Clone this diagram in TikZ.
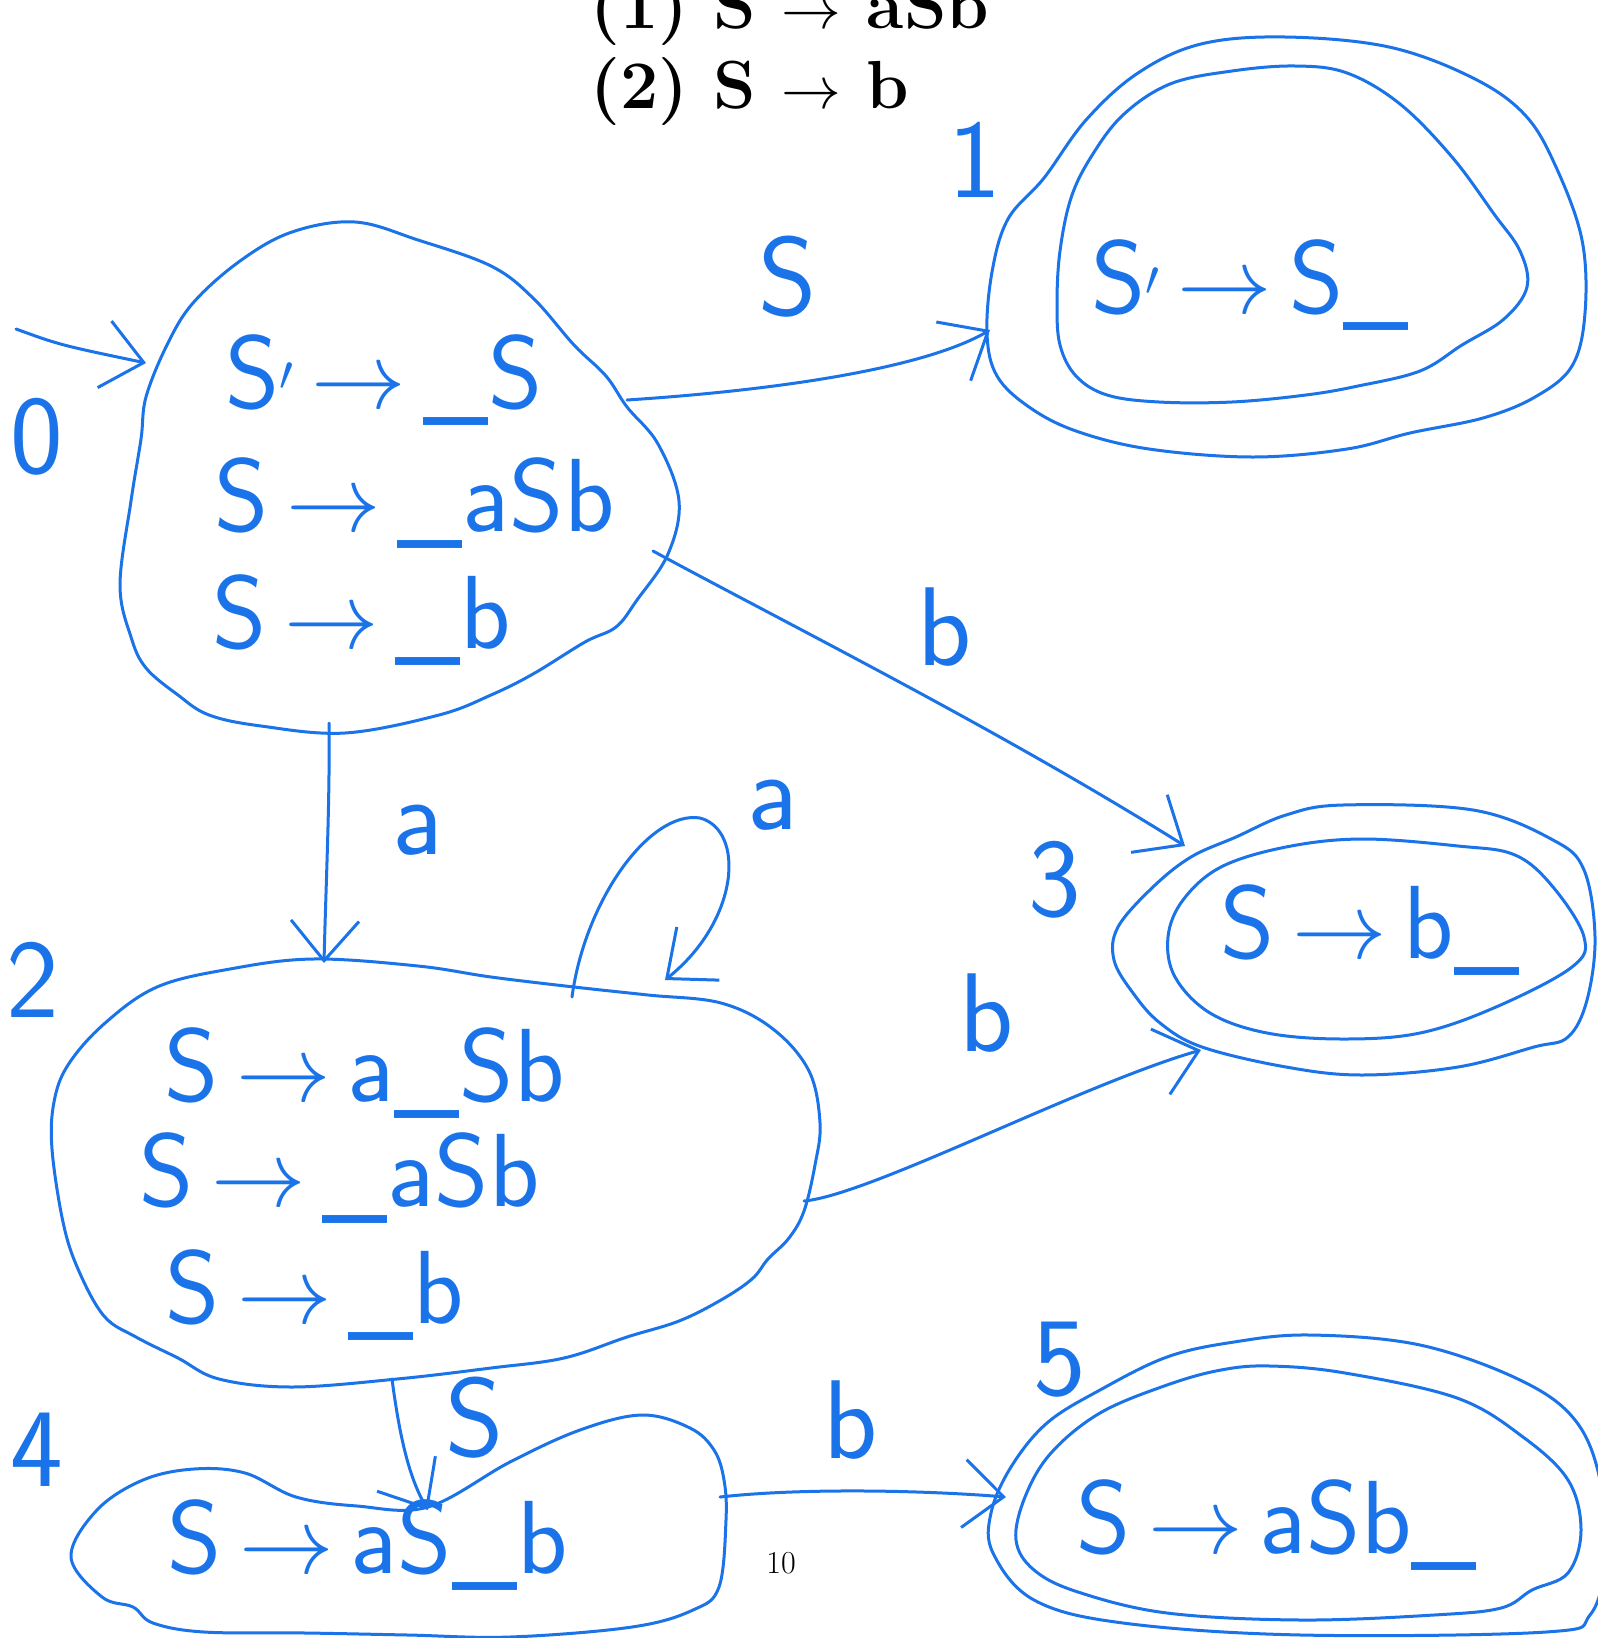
\documentclass[tikz,border=0pt]{standalone}
\usetikzlibrary{arrows.meta}
\definecolor{ink}{HTML}{1A73E8}
\newcommand\harr{\,\scalebox{1.9}{$\rightarrow$}\,}
\newcommand\tarr{\scalebox{1.2}{$\rightarrow$}}
\begin{document}
\begin{tikzpicture}[x=0.5pt,y=-0.5pt,
  pen/.style={draw=ink,line width=1.5pt,line cap=round,line join=round},
  blob/.style={pen},
  edge/.style={pen,-{Straight Barb[length=20pt,width=34pt,line width=1.5pt]}},
  item/.style={text=ink,font=\sffamily\fontsize{52}{56}\selectfont,inner sep=0pt,anchor=west},
  lbl/.style={text=ink,font=\sffamily\fontsize{56}{60}\selectfont,inner sep=0pt},
  title/.style={font=\bfseries\fontsize{34}{40}\selectfont,anchor=base west,inner sep=0pt}]
\useasboundingbox (0,0) rectangle (1598,1638);

% title
\node[title] (t1) at (590,28) {(1) S \tarr\ aSb};
\node[title] (t2) at (590,108) {(2) S \tarr\ b};

% state 0
\draw[blob] plot[smooth cycle,tension=0.6] coordinates {(355,222) (418,240) (491,266) (533,298) (574,345) (606,376) (627,407) (658,444) (679,501) (668,554) (637,600) (616,627) (585,642) (533,674) (491,695) (439,715) (345,733) (261,726) (209,715) (178,695) (146,668) (131,637) (120,585) (131,501) (141,439) (146,397) (167,345) (193,303) (240,261) (292,232)};
\node[item] (i0a) at (225,380) {S$'$\harr\_S};
\node[item] (i0b) at (214,503) {S\harr\_aSb};
\node[item] (i0c) at (212,620) {S\harr\_b};
\node[lbl] (n0) at (37,437) {0};

% state 1
\draw[blob] plot[smooth cycle,tension=0.6] coordinates {(1285,37) (1389,47) (1473,78) (1525,115) (1556,167) (1582,240) (1585,313) (1572,366) (1535,397) (1483,418) (1410,433) (1347,449) (1253,457) (1149,449) (1076,431) (1029,407) (997,376) (987,334) (992,272) (1008,219) (1044,178) (1086,120) (1138,73) (1201,44)};
\draw[blob] plot[smooth cycle,tension=0.6] coordinates {(1295,66) (1347,73) (1400,104) (1452,157) (1494,214) (1520,251) (1527,287) (1504,319) (1462,345) (1420,371) (1358,386) (1306,395) (1232,402) (1159,402) (1107,395) (1076,376) (1060,345) (1057,303) (1060,251) (1071,198) (1091,157) (1123,115) (1170,84) (1232,71)};
\node[item] (i1) at (1091,285) {S$'$\harr S\_};
\node[lbl] (n1) at (975,160) {1};

% state 2
\draw[blob] plot[smooth cycle,tension=0.6] coordinates {(313,959) (418,966) (491,977) (574,987) (648,995) (721,1003) (773,1029) (809,1071) (820,1123) (815,1165) (804,1211) (789,1238) (768,1259) (752,1279) (721,1300) (679,1321) (627,1337) (564,1358) (491,1368) (397,1379) (292,1387) (219,1379) (178,1358) (136,1337) (104,1316) (78,1269) (63,1222) (52,1149) (54,1102) (68,1065) (104,1024) (157,987) (230,969)};
\node[item] (i2a) at (164,1073) {S\harr a\_Sb};
\node[item] (i2b) at (139,1178) {S\harr\_aSb};
\node[item] (i2c) at (165,1295) {S\harr\_b};
\node[lbl] (n2) at (33,980) {2};

% state 3
\draw[blob] plot[smooth cycle,tension=0.6] coordinates {(1343,805) (1473,810) (1553,840) (1584,870) (1595,937) (1587,1000) (1568,1037) (1534,1047) (1458,1067) (1362,1075) (1286,1067) (1202,1047) (1160,1023) (1133,993) (1114,960) (1118,927) (1153,887) (1191,857) (1236,837) (1286,815)};
\draw[blob] plot[smooth cycle,tension=0.6] coordinates {(1362,839) (1458,846) (1515,855) (1553,887) (1584,937) (1572,967) (1496,1007) (1420,1033) (1343,1039) (1267,1033) (1210,1013) (1175,977) (1168,937) (1183,900) (1221,867) (1286,847)};
\node[item] (i3) at (1220,930) {S\harr b\_};
\node[lbl] (n3) at (1055,880) {3};

% state 4
\draw[blob] plot[smooth cycle,tension=0.6] coordinates {(102,1597) (71,1557) (97,1510) (143,1480) (194,1469) (245,1473) (296,1497) (357,1506) (428,1507) (510,1462) (580,1430) (642,1415) (690,1428) (714,1450) (724,1480) (726,1520) (719,1587) (693,1610) (632,1627) (510,1637) (408,1635) (306,1633) (204,1632) (153,1623) (133,1607)};
\node[item] (i4) at (167,1545) {S\harr aS\_b};
\node[lbl] (n4) at (37,1450) {4};

% state 5
\draw[blob] plot[smooth cycle,tension=0.6] coordinates {(1310,1335) (1420,1345) (1520,1380) (1575,1420) (1600,1480) (1605,1560) (1590,1615) (1546,1632) (1301,1635) (1123,1623) (1034,1600) (993,1553) (991,1513) (1011,1467) (1047,1423) (1100,1390) (1167,1357) (1234,1342)};
\draw[blob] plot[smooth cycle,tension=0.6] coordinates {(1270,1366) (1345,1373) (1457,1398) (1523,1437) (1568,1480) (1581,1530) (1568,1573) (1532,1590) (1501,1608) (1434,1615) (1301,1620) (1167,1613) (1078,1592) (1034,1570) (1016,1540) (1025,1497) (1051,1453) (1100,1413) (1167,1385) (1221,1370)};
\node[item] (i5) at (1076,1525) {S\harr aSb\_};
\node[lbl] (n5) at (1060,1360) {5};

% connector end points
\coordinate (start) at (16,329);
\coordinate (s0in) at (146,363);
\coordinate (s0r) at (627,400);
\coordinate (s1l) at (990,330);
\coordinate (s0rb) at (653,551);
\coordinate (s3a) at (1185,846);
\coordinate (s0b) at (329,723);
\coordinate (s2t) at (324,963);
\coordinate (s2la) at (572,997);
\coordinate (s2top) at (700,818);
\coordinate (s2lb) at (665,980);
\coordinate (s2r) at (804,1201);
\coordinate (s3b) at (1201,1050);
\coordinate (s2b) at (392,1379);
\coordinate (s4t) at (428,1510);
\coordinate (s4r) at (720,1497);
\coordinate (s5l) at (1006,1497);

% connectors
\draw[edge] (start) .. controls (60,345) .. (s0in);
\draw[edge] (s0r) .. controls (780,390) and (925,368) .. (s1l);
\draw[edge] (s0rb) .. controls (780,620) and (1000,730) .. (s3a);
\draw[edge] (s0b) .. controls (330,800) and (326,880) .. (s2t);
\draw[edge] (s2la) .. controls (585,900) and (650,810) .. (s2top) .. controls (745,830) and (740,920) .. (s2lb);
\draw[edge] (s2r) .. controls (870,1195) and (1080,1085) .. (s3b);
\draw[edge] (s2b) .. controls (400,1440) and (410,1480) .. (s4t);
\draw[edge] (s4r) .. controls (800,1488) and (920,1490) .. (s5l);

% edge labels
\node[lbl] (l01) at (788,277) {S};
\node[lbl] (l03) at (945,627) {b};
\node[lbl] (l02) at (418,830) {a};
\node[lbl] (l22) at (773,805) {a};
\node[lbl] (l23) at (987,1013) {b};
\node[lbl] (l24) at (475,1418) {S};
\node[lbl] (l45) at (851,1420) {b};

% page number
\node[font=\fontsize{16}{18}\selectfont,inner sep=0pt] (pg) at (781,1563) {10};
\end{tikzpicture}
\end{document}
